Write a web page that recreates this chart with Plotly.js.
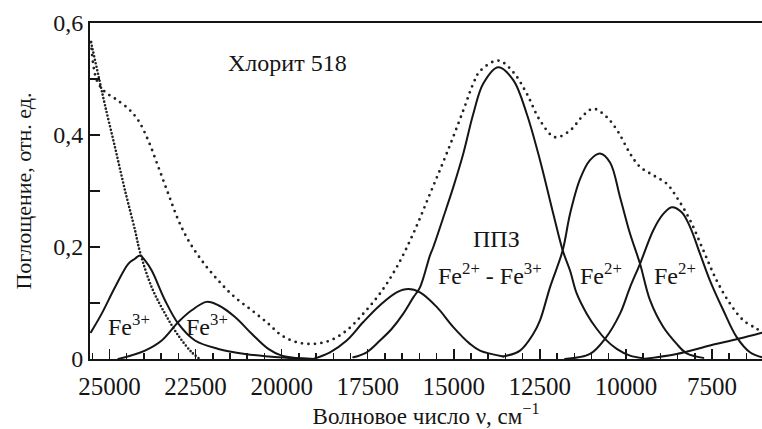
<!DOCTYPE html>
<html>
<head>
<meta charset="utf-8">
<script src="https://cdn.plot.ly/plotly-3.0.1.min.js"></script>
<style>
html,body{margin:0;padding:0;background:#fff;}
#chart{width:762px;height:429px;}
.scatterlayer .js-line{stroke-linecap:round;}
</style>
</head>
<body>
<div id="chart"></div>
<script>
// Wavenumber (cm^-1) and absorbance values
var sumV = [25537,25371,25130,24840,24454,24163,23873,23582,23292,23001,22711,22322,21839,21354,20869,20387,19998,19562,19080,18595,18110,17628,17143,16658,16176,15691,15206,14723,14433,14239,13707,13271,12882,12496,12060,11624,11238,10948,10558,10221,9882,9591,9205,8816,8526,8139,7753,7364,6978,6590,6201,6048];
var sumA = [0.566,0.498,0.477,0.465,0.447,0.426,0.390,0.343,0.295,0.248,0.212,0.176,0.140,0.110,0.087,0.063,0.042,0.030,0.027,0.033,0.051,0.081,0.117,0.164,0.224,0.295,0.367,0.444,0.492,0.514,0.533,0.512,0.474,0.426,0.396,0.408,0.435,0.447,0.432,0.405,0.367,0.343,0.328,0.313,0.289,0.248,0.194,0.140,0.099,0.069,0.054,0.048];

var uvV = [25537,25325,25130,24840,24549,24259,24114,23774,23388,23001,22612,22371];
var uvA = [0.566,0.507,0.453,0.378,0.301,0.230,0.191,0.128,0.081,0.042,0.012,0.0];

var fe3aV = [25537,25226,24840,24454,24259,24114,23969,23774,23388,23001,22516,21839,21064,20097,19080];
var fe3aA = [0.048,0.081,0.128,0.170,0.179,0.185,0.176,0.158,0.105,0.063,0.033,0.018,0.009,0.003,0.0];

var fe3bV = [24744,23969,23483,23001,22612,22177,21839,21354,20869,20387,19998,19080];
var fe3bA = [0.0,0.015,0.033,0.066,0.087,0.102,0.096,0.075,0.045,0.018,0.006,0.0];

var b16V = [19080,18595,18110,17628,17143,16658,16321,15981,15496,15014,14529,14239,13562];
var b16A = [0.0,0.012,0.033,0.066,0.096,0.119,0.125,0.119,0.093,0.057,0.027,0.015,0.0045];

var ppzV = [17919,17530,17143,16800,16466,16176,15981,15691,15594,15206,15014,14723,14433,14143,13707,13271,12882,12496,12109,11837,11624,11430,11140,10850,10608,10268,9882,9495];
var ppzA = [0.003,0.012,0.033,0.054,0.081,0.110,0.128,0.185,0.200,0.271,0.307,0.367,0.438,0.492,0.521,0.498,0.438,0.355,0.259,0.194,0.158,0.117,0.081,0.054,0.036,0.018,0.006,0.0015];

var fe2aV = [13562,13077,12690,12496,12206,11837,11624,11334,11044,10753,10461,10171,9882,9591,9301,8915,8526,8236,7753];
var fe2aA = [0.0045,0.015,0.045,0.069,0.128,0.194,0.259,0.321,0.355,0.367,0.351,0.289,0.224,0.170,0.105,0.057,0.027,0.010,0.002];

var fe2bV = [11769,11044,10608,10171,9882,9591,9205,8915,8671,8381,8139,7849,7559,7172,6784,6398,6048];
var fe2bA = [0.0,0.009,0.036,0.081,0.128,0.170,0.230,0.259,0.271,0.262,0.236,0.188,0.140,0.087,0.039,0.012,0.003];

var irV = [9495,8526,7559,6736,6048];
var irA = [0.0,0.009,0.024,0.036,0.047];

var labels = ['Хлорит 518','ППЗ','Fe<sup>2+</sup> - Fe<sup>3+</sup>','Fe<sup>2+</sup>','Fe<sup>2+</sup>','Fe<sup>3+</sup>','Fe<sup>3+</sup>'];
var labelV = [19844,13745,13948,10724,8575,24433,22168];
var labelA = [0.528,0.215,0.151,0.151,0.151,0.060,0.060];

var ink = '#151515';
var serif = 'Liberation Serif';
function solid(v,a){return {x:v,y:a,type:'scatter',mode:'lines',line:{color:ink,width:2,shape:'spline',smoothing:1},hoverinfo:'skip'};}

var traces = [
  {x:sumV,y:sumA,type:'scatter',mode:'lines',line:{color:'#222',width:2.8,dash:'0px,6.5px',shape:'spline',smoothing:1},hoverinfo:'skip'},
  {x:uvV,y:uvA,type:'scatter',mode:'lines',line:{color:'#222',width:2.6,dash:'0px,3.6px',shape:'spline',smoothing:1},hoverinfo:'skip'},
  solid(fe3aV,fe3aA), solid(fe3bV,fe3bA), solid(b16V,b16A), solid(ppzV,ppzA),
  solid(fe2aV,fe2aA), solid(fe2bV,fe2bA), solid(irV,irA)
];

var annotations = labels.map(function(t,i){
  return {x:labelV[i],y:labelA[i],xref:'x',yref:'y',text:t,showarrow:false,
    font:{family:serif,size:24,color:ink}};
});

var layout = {
  width:762,height:429,
  margin:{l:90,r:0,t:23,b:70,pad:0},
  paper_bgcolor:'#fff',plot_bgcolor:'#fff',
  showlegend:false,
  separators:', ',
  font:{family:serif,size:22,color:ink},
  xaxis:{
    range:[25566,6048],
    tick0:0,dtick:2500,tickformat:'d',
    ticks:'inside',ticklen:10,tickwidth:1.5,tickcolor:ink,
    minor:{dtick:500,ticks:'inside',ticklen:6,tickwidth:1.5,tickcolor:ink},
    showline:true,linecolor:ink,linewidth:2,mirror:true,
    showgrid:false,zeroline:false,
    ticklabelstandoff:4,
    tickfont:{family:serif,size:25},
    title:{text:'Волновое число ν, см<sup>−1</sup>',font:{family:serif,size:23},standoff:6}
  },
  yaxis:{
    range:[0,0.6],
    tick0:0,dtick:0.2,
    ticks:'inside',ticklen:10,tickwidth:1.5,tickcolor:ink,
    minor:{dtick:0.1,ticks:'inside',ticklen:10,tickwidth:1.5,tickcolor:ink},
    showline:true,linecolor:ink,linewidth:2,
    showgrid:false,zeroline:false,
    tickfont:{family:serif,size:24},
    title:{text:'Поглощение, отн. ед.',font:{family:serif,size:22},standoff:16}
  },
  annotations:annotations
};

Plotly.newPlot('chart',traces,layout,{staticPlot:true,displayModeBar:false});
</script>
</body>
</html>
